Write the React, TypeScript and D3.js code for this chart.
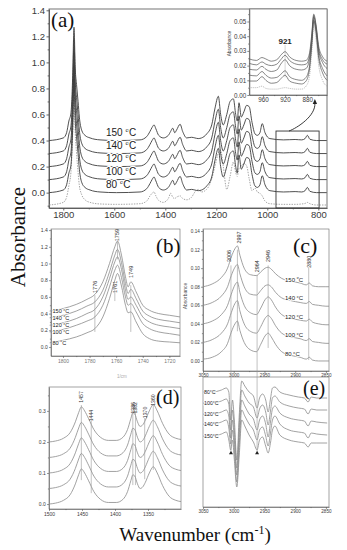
import * as React from "react";
import * as d3 from "d3";

const SANS = "'Liberation Sans', Arial, Helvetica, sans-serif";
const SERIF = "'Liberation Serif', 'Times New Roman', Times, serif";

const temps = ["150", "140", "120", "100", "80"];

// (a) overview spectrum, [wavenumber, absorbance above its baseline], positions
const specA: [number, number][] = [
  [1855, 0], [1800, 0.02], [1787, 0.06], [1778, 0.15], [1770, 0.21], [1763, 0.5], [1758, 0.87],
  [1753, 0.55], [1748, 0.43], [1742, 0.3], [1737, 0.18], [1728, 0.08], [1715, 0.04], [1695, 0.02],
  [1656, 0.005], [1591, 0], [1499, 0.005], [1473, 0.03], [1460, 0.07], [1452, 0.1], [1444, 0.12],
  [1437, 0.09], [1426, 0.04], [1408, 0.02], [1388, 0.04], [1379, 0.07], [1371, 0.095], [1363, 0.06],
  [1356, 0.08], [1342, 0.125], [1332, 0.07], [1316, 0.02], [1297, 0.025], [1284, 0.02], [1271, 0.015],
  [1258, 0.02], [1238, 0.05], [1218, 0.12], [1205, 0.25], [1192, 0.34], [1183, 0.2], [1173, 0.12],
  [1159, 0.2], [1146, 0.3], [1133, 0.32], [1124, 0.2], [1118, 0.15], [1111, 0.29], [1102, 0.18],
  [1092, 0.22], [1081, 0.27], [1071, 0.26], [1060, 0.14], [1048, 0.05], [1039, 0.04], [1029, 0.06],
  [1020, 0.13], [1009, 0.06], [990, 0.015], [937, 0.005], [891, 0.008], [865, 0.005], [852, 0.015],
  [843, 0.04], [833, 0.01], [807, 0], [767, 0],
];
const offsetsA = [0.4, 0.3, 0.2, 0.1, 0.0];

// dotted reference spectrum in (a)
const dottedBaseA = -0.095;
const dottedA: [number, number][] = [
  [1855, 0], [1800, 0.02], [1787, 0.06], [1778, 0.15], [1770, 0.25], [1763, 0.55], [1758, 0.85],
  [1753, 0.55], [1748, 0.4], [1742, 0.25], [1737, 0.15], [1728, 0.08], [1715, 0.04], [1695, 0.02],
  [1656, 0.008], [1591, 0.005], [1499, 0.01], [1473, 0.03], [1460, 0.07], [1452, 0.09], [1444, 0.1],
  [1437, 0.07], [1426, 0.035], [1408, 0.02], [1388, 0.05], [1379, 0.09], [1371, 0.06], [1363, 0.05],
  [1356, 0.06], [1342, 0.07], [1332, 0.05], [1316, 0.04], [1297, 0.06], [1284, 0.1], [1271, 0.12],
  [1258, 0.1], [1238, 0.12], [1218, 0.2], [1205, 0.3], [1192, 0.4], [1183, 0.42], [1173, 0.3],
  [1159, 0.12], [1146, 0.22], [1133, 0.33], [1124, 0.25], [1118, 0.22], [1111, 0.28], [1102, 0.3],
  [1092, 0.32], [1081, 0.3], [1071, 0.2], [1060, 0.11], [1048, 0.13], [1039, 0.1], [1029, 0.09],
  [1020, 0.07], [1009, 0.03], [990, 0.01], [937, 0.005], [891, 0.005], [865, 0.008], [852, 0.012],
  [843, 0.02], [833, 0.01], [807, 0], [767, 0],
];

// inset of (a): 985-844 cm-1
const wnInset = [985, 972, 962, 955, 945, 935, 928, 920, 912, 900, 890, 882, 876, 872, 868, 864, 859, 852, 844];
const inset150 = [0.0245, 0.0235, 0.0255, 0.0245, 0.023, 0.024, 0.027, 0.0295, 0.026, 0.0235, 0.023, 0.0235, 0.028, 0.04, 0.055, 0.048, 0.033, 0.026, 0.023];
const inset140 = [0.0215, 0.0205, 0.0225, 0.021, 0.02, 0.021, 0.024, 0.027, 0.0235, 0.021, 0.0205, 0.021, 0.026, 0.038, 0.054, 0.047, 0.031, 0.024, 0.021];
const inset120 = [0.0175, 0.017, 0.0195, 0.0175, 0.016, 0.017, 0.021, 0.024, 0.02, 0.0175, 0.017, 0.018, 0.024, 0.036, 0.053, 0.046, 0.03, 0.022, 0.018];
const inset100 = [0.0135, 0.013, 0.016, 0.0135, 0.0115, 0.012, 0.014, 0.0165, 0.0125, 0.0105, 0.01, 0.012, 0.019, 0.034, 0.051, 0.044, 0.027, 0.018, 0.013];
const inset80 = [0.0095, 0.0095, 0.0125, 0.01, 0.008, 0.0085, 0.011, 0.0135, 0.0095, 0.008, 0.0075, 0.0095, 0.017, 0.032, 0.05, 0.043, 0.025, 0.015, 0.01];
const insetDotted = [0.005, 0.005, 0.006, 0.0045, 0.004, 0.004, 0.0045, 0.005, 0.0045, 0.004, 0.004, 0.006, 0.012, 0.028, 0.047, 0.038, 0.02, 0.01, 0.006];

// (b) carbonyl region
const wnB = [1810, 1800, 1790, 1782, 1776, 1770, 1765, 1761, 1759, 1756, 1753, 1751, 1749, 1745, 1740, 1735, 1728, 1720, 1712];
const b150 = [0.43, 0.46, 0.51, 0.57, 0.63, 0.78, 1.0, 1.2, 1.27, 1.1, 0.84, 0.72, 0.78, 0.66, 0.5, 0.44, 0.4, 0.38, 0.36];
const b140 = [0.35, 0.38, 0.43, 0.49, 0.54, 0.68, 0.9, 1.1, 1.17, 1.01, 0.76, 0.64, 0.69, 0.58, 0.43, 0.37, 0.33, 0.31, 0.29];
const b120 = [0.26, 0.29, 0.34, 0.4, 0.45, 0.6, 0.82, 1.02, 1.08, 0.93, 0.68, 0.57, 0.6, 0.5, 0.36, 0.3, 0.26, 0.24, 0.22];
const b100 = [0.18, 0.21, 0.26, 0.31, 0.36, 0.5, 0.72, 0.92, 0.98, 0.83, 0.6, 0.5, 0.52, 0.42, 0.28, 0.22, 0.18, 0.16, 0.14];
const b80 = [0.05, 0.08, 0.12, 0.17, 0.22, 0.36, 0.58, 0.8, 0.88, 0.73, 0.5, 0.41, 0.42, 0.3, 0.16, 0.1, 0.07, 0.06, 0.05];
const bMarks = ["1776", "1759", "1761", "1749"];
const bMarkPos = [1776, 1759, 1761, 1749];
const bMarkSpan: [number, number][] = [[0.18, 0.62], [1.27, 1.05], [0.55, 0.72], [0.18, 0.74]];
const bMarkLabelY = [0.72, 1.34, 0.72, 0.9];

// (c) C-H stretch region
const wnC = [3050, 3035, 3020, 3010, 3004, 2998, 2994, 2990, 2983, 2973, 2963, 2956, 2949, 2944, 2939, 2932, 2922, 2907, 2892, 2882, 2877, 2872, 2862, 2850, 2845];
const c150 = [0.08, 0.083, 0.09, 0.1, 0.112, 0.121, 0.124, 0.114, 0.1, 0.093, 0.092, 0.096, 0.1, 0.101, 0.099, 0.094, 0.089, 0.086, 0.084, 0.082, 0.084, 0.081, 0.08, 0.08, 0.08];
const c140 = [0.06, 0.063, 0.07, 0.08, 0.092, 0.101, 0.104, 0.094, 0.08, 0.072, 0.071, 0.076, 0.081, 0.082, 0.08, 0.074, 0.068, 0.065, 0.063, 0.062, 0.064, 0.061, 0.06, 0.059, 0.059];
const c120 = [0.04, 0.043, 0.05, 0.06, 0.072, 0.082, 0.085, 0.074, 0.06, 0.052, 0.05, 0.057, 0.066, 0.069, 0.066, 0.058, 0.05, 0.046, 0.044, 0.043, 0.045, 0.042, 0.04, 0.039, 0.039];
const c100 = [0.02, 0.023, 0.03, 0.04, 0.052, 0.062, 0.065, 0.054, 0.04, 0.032, 0.03, 0.037, 0.046, 0.049, 0.046, 0.038, 0.03, 0.026, 0.024, 0.022, 0.024, 0.021, 0.02, 0.019, 0.019];
const c80 = [0.002, 0.004, 0.01, 0.019, 0.031, 0.04, 0.043, 0.033, 0.02, 0.012, 0.01, 0.018, 0.027, 0.03, 0.026, 0.018, 0.01, 0.006, 0.004, 0.002, 0.004, 0.001, 0, 0, 0];
const cOffsets = [0.08, 0.06, 0.04, 0.02, 0.0];
const cMarks = ["3006", "2997", "2964", "2946", "2880"];
const cMarkPos = [3004.5, 2994, 2962, 2944, 2878];
const cMarkSpan: [number, number][] = [[0.103, 0], [0.12, 0.032], [0.093, 0], [0.103, 0.014], [0.101, 0.001]];
const cMarkLabelY = [0.113, 0.133, 0.102, 0.113, 0.107];

// (d) CH bending region
const wnD = [1500, 1490, 1478, 1468, 1460, 1455, 1451, 1446, 1440, 1432, 1422, 1410, 1398, 1388, 1381, 1376, 1373, 1370, 1366, 1362, 1358, 1354, 1348, 1342, 1336, 1328, 1318, 1308, 1300];
const relD = [0, 0.003, 0.012, 0.03, 0.065, 0.095, 0.113, 0.1, 0.075, 0.04, 0.015, 0.005, 0.005, 0.015, 0.04, 0.075, 0.094, 0.09, 0.065, 0.05, 0.055, 0.07, 0.1, 0.12, 0.1, 0.06, 0.025, 0.012, 0.008];
const offsetsD = [0.2, 0.15, 0.1, 0.05, 0.0];
const dMarks = ["1457", "1444", "1386", "1382", "1370", "1360"];
const dMarkPos = [1451, 1436, 1373, 1369, 1355, 1342];
const dMarkSpan: [number, number][] = [[0.319, 0.077], [0.271, 0.035], [0.297, 0.061], [0.297, 0.061], [0.277, 0.08], [0.319, 0.11]];
const dMarkLabelY = [0.345, 0.285, 0.31, 0.31, 0.295, 0.335];

// (e) difference spectra, 3050-2845 cm-1
const tempsE = ["80", "100", "120", "140", "150"];
const wnE = [3050, 3035, 3020, 3012, 3008, 3005, 3002, 2999, 2995, 2991, 2987, 2982, 2975, 2968, 2962, 2958, 2953, 2948, 2944, 2940, 2937, 2933, 2925, 2910, 2895, 2885, 2879, 2874, 2865, 2848];
const e80 = [0.015, 0.015, 0.017, 0.019, 0.015, -0.013, 0.007, -0.013, -0.053, -0.008, 0.026, 0.021, 0.015, 0.011, -0.001, 0.009, 0.013, 0.007, -0.005, 0.009, 0.019, 0.02, 0.015, 0.012, 0.01, 0.009, 0.005, 0.01, 0.009, 0.009];
const e100 = [0.004, 0.004, 0.006, 0.008, 0.003, -0.023, -0.003, -0.023, -0.061, -0.018, 0.017, 0.011, 0.004, 0.0, -0.011, -0.002, 0.002, -0.005, -0.018, -0.003, 0.009, 0.011, 0.005, 0.001, -0.001, -0.002, -0.007, -0.002, -0.003, -0.003];
const e120 = [-0.007, -0.007, -0.005, -0.003, -0.009, -0.031, -0.013, -0.033, -0.068, -0.028, 0.007, 0.001, -0.007, -0.012, -0.023, -0.013, -0.009, -0.017, -0.03, -0.014, -0.002, 0.001, -0.006, -0.011, -0.013, -0.014, -0.019, -0.014, -0.015, -0.016];
const e140 = [-0.017, -0.017, -0.015, -0.013, -0.021, -0.037, -0.023, -0.043, -0.075, -0.038, -0.003, -0.009, -0.017, -0.023, -0.033, -0.023, -0.02, -0.029, -0.039, -0.025, -0.013, -0.009, -0.017, -0.023, -0.025, -0.026, -0.031, -0.026, -0.027, -0.028];
const e150 = [-0.029, -0.029, -0.027, -0.025, -0.033, -0.043, -0.033, -0.053, -0.08, -0.048, -0.013, -0.019, -0.028, -0.035, -0.043, -0.033, -0.03, -0.039, -0.046, -0.035, -0.023, -0.019, -0.028, -0.033, -0.035, -0.036, -0.04, -0.036, -0.036, -0.036];
const eTriangles = [3004.5, 2962];
const eTriangleY = -0.046;

type Pt = [number, number];
const zip = (wn: number[], v: number[]): Pt[] => wn.map((w, i) => [w, v[i]]);

function styleAxis(sel: any, fs: number, sw: number, color = "#3a3a3a") {
  sel.select(".domain").attr("stroke", "#555").attr("stroke-width", sw);
  sel.selectAll(".tick line").attr("stroke", "#555").attr("stroke-width", sw);
  sel.selectAll(".tick text").attr("font-size", fs).attr("font-family", SANS).attr("fill", color);
}

function panelAxes(g: any, x: any, y: any, o: any) {
  const [x0, x1] = x.range();
  const [y0, y1] = y.range();
  g.append("rect").attr("x", x0).attr("y", y1).attr("width", x1 - x0).attr("height", y0 - y1)
    .attr("fill", "none").attr("stroke", "#666").attr("stroke-width", o.sw);
  if (o.xMinor) {
    g.append("g").attr("transform", `translate(0,${y0})`)
      .call(d3.axisBottom(x).tickValues(o.xMinor).tickSize(o.tick * 0.55).tickSizeOuter(0).tickFormat(() => ""))
      .call((s: any) => { styleAxis(s, o.fs, o.sw); s.select(".domain").remove(); });
  }
  g.append("g").attr("transform", `translate(0,${y0})`)
    .call(d3.axisBottom(x).tickValues(o.xTicks).tickSize(o.tick).tickSizeOuter(0).tickPadding(o.xPad ?? 1).tickFormat(d3.format("d")))
    .call((s: any) => styleAxis(s, o.fs, o.sw, o.xColor));
  if (o.yTicks) {
    if (o.yMinor) {
      g.append("g").attr("transform", `translate(${x0},0)`)
        .call(d3.axisLeft(y).tickValues(o.yMinor).tickSize(o.tick * 0.55).tickSizeOuter(0).tickFormat(() => ""))
        .call((s: any) => { styleAxis(s, o.fs, o.sw); s.select(".domain").remove(); });
    }
    g.append("g").attr("transform", `translate(${x0},0)`)
      .call(d3.axisLeft(y).tickValues(o.yTicks).tickSize(o.tick).tickSizeOuter(0).tickPadding(o.yPad ?? 1).tickFormat(d3.format(o.yFmt)))
      .call((s: any) => styleAxis(s, o.fs, o.sw));
  }
}

function tempLabel(g: any, t: string, x: number, y: number, fs: number, gap = " ") {
  const txt = g.append("text").attr("x", x).attr("y", y).attr("font-family", SANS).attr("font-size", fs)
    .attr("fill", "#222").attr("stroke", "#fff").attr("stroke-width", fs * 0.25).attr("paint-order", "stroke");
  txt.append("tspan").text(t + gap);
  txt.append("tspan").text("o").attr("font-size", fs * 0.62).attr("dy", -fs * 0.38);
  txt.append("tspan").text("C").attr("dy", fs * 0.38);
}

function vLabel(g: any, t: string, xc: number, yc: number, fs: number) {
  g.append("text").attr("transform", `translate(${xc + fs * 0.36},${yc}) rotate(-90)`)
    .attr("text-anchor", "middle").attr("font-family", SANS).attr("font-size", fs).attr("fill", "#333").text(t);
}

function drawChart(svgRef: any) {
  const svg = d3.select(svgRef.current);
  svg.selectAll("*").remove();
  svg.append("rect").attr("width", 347).attr("height", 550).attr("fill", "#fff");

  const line = (x: any, y: any) =>
    d3.line<Pt>().x((d) => x(d[0])).y((d) => y(d[1])).curve(d3.curveMonotoneX);

  // ---------------- (a)
  const xA = d3.scaleLinear().domain([1856, 766]).range([49, 327]);
  const yA = d3.scaleLinear().domain([-0.118, 1.41]).range([208, 9]);
  const gA = svg.append("g");
  panelAxes(gA, xA, yA, {
    sw: 0.9, tick: 2.5, fs: 9.5, xPad: 0.5, yPad: 1.5,
    xTicks: [1800, 1600, 1400, 1200, 1000, 800], xMinor: [1700, 1500, 1300, 1100, 900],
    yTicks: [0, 0.2, 0.4, 0.6, 0.8, 1.0, 1.2, 1.4], yMinor: [-0.1, 0.1, 0.3, 0.5, 0.7, 0.9, 1.1, 1.3], yFmt: ".1f",
  });
  const lA = line(xA, yA);
  gA.append("path").attr("d", lA(dottedA.map(([w, v]) => [w, v + dottedBaseA] as Pt)))
    .attr("fill", "none").attr("stroke", "#9a9a9a").attr("stroke-width", 0.9).attr("stroke-dasharray", "1.4,1.2");
  gA.selectAll(".specA").data(offsetsA).enter().append("path")
    .attr("d", (o: number) => lA(specA.map(([w, v]) => [w, v + o] as Pt)))
    .attr("fill", "none").attr("stroke", "#3c3c3c").attr("stroke-width", 0.9);
  offsetsA.forEach((o, i) => tempLabel(gA, temps[i], 106, yA(o) - 5, 10));

  // zoom box and arrow
  gA.append("rect").attr("x", xA(966)).attr("y", yA(0.473)).attr("width", xA(797) - xA(966)).attr("height", yA(-0.118) - yA(0.473))
    .attr("fill", "none").attr("stroke", "#333").attr("stroke-width", 0.9);

  // inset
  const xI = d3.scaleLinear().domain([985, 844]).range([249.3, 327]);
  const yI = d3.scaleLinear().domain([0, 0.0585]).range([95, 9]);
  const gI = svg.append("g");
  gI.append("rect").attr("x", 249.3).attr("y", 9).attr("width", 327 - 249.3).attr("height", 86).attr("fill", "#fff");
  panelAxes(gI, xI, yI, {
    sw: 0.7, tick: 2, fs: 6.3, xPad: 0.8, yPad: 1,
    xTicks: [960, 920, 880], xMinor: [940, 900, 860],
    yTicks: [0, 0.01, 0.02, 0.03, 0.04, 0.05], yMinor: [0.005, 0.015, 0.025, 0.035, 0.045, 0.055], yFmt: ".2f",
  });
  const lI = line(xI, yI);
  gI.append("line").attr("x1", xI(920)).attr("x2", xI(920)).attr("y1", yI(0.034)).attr("y2", yI(0.012))
    .attr("stroke", "#aaa").attr("stroke-width", 0.5);
  gI.append("path").attr("d", lI(zip(wnInset, insetDotted))).attr("fill", "none").attr("stroke", "#999")
    .attr("stroke-width", 0.7).attr("stroke-dasharray", "1,1");
  [inset150, inset140, inset120, inset100, inset80].forEach((s) =>
    gI.append("path").attr("d", lI(zip(wnInset, s))).attr("fill", "none").attr("stroke", "#555").attr("stroke-width", 0.7));
  gI.append("text").attr("x", xI(920)).attr("y", yI(0.035)).attr("text-anchor", "middle").attr("font-family", SANS)
    .attr("font-weight", "bold").attr("font-size", 8).attr("fill", "#222").text("921");
  gI.append("text").attr("transform", `translate(230.5,${yI(0.035)}) rotate(-90)`).attr("text-anchor", "middle")
    .attr("font-family", SANS).attr("font-size", 4.8).attr("fill", "#444").text("Absorbance");

  const ax0 = xA(915), ay0 = yA(0.473), ax1 = xI(866), ay1 = yI(0) + 5;
  svg.append("path").attr("d", `M${ax0},${ay0} C${ax0 + 8},${ay0 - 3} ${ax1 + 1},${ay1 + 16} ${ax1},${ay1 + 3}`)
    .attr("fill", "none").attr("stroke", "#222").attr("stroke-width", 0.9);
  svg.append("path").attr("d", `M${ax1},${ay1 - 1} L${ax1 - 2.2},${ay1 + 4} L${ax1 + 2.2},${ay1 + 4} Z`).attr("fill", "#222");

  svg.append("text").attr("x", 51).attr("y", 27).attr("font-family", SERIF).attr("font-size", 21).attr("fill", "#111").text("(a)");

  // ---------------- (b)
  const xB = d3.scaleLinear().domain([1809, 1712]).range([51, 180]);
  const yB = d3.scaleLinear().domain([-0.108, 1.413]).range([356, 229]);
  const gB = svg.append("g");
  panelAxes(gB, xB, yB, {
    sw: 0.6, tick: 2, fs: 5, xPad: 1.5, yPad: 1.2, xColor: "#777",
    xTicks: [1800, 1780, 1760, 1740, 1720], xMinor: [1790, 1770, 1750, 1730],
    yTicks: [0, 0.2, 0.4, 0.6, 0.8, 1.0, 1.2, 1.4], yMinor: [0.1, 0.3, 0.5, 0.7, 0.9, 1.1, 1.3], yFmt: ".1f",
  });
  const lB = line(xB, yB);
  const bSeries = [b150, b140, b120, b100, b80];
  bSeries.forEach((s) => gB.append("path").attr("d", lB(zip(wnB, s))).attr("fill", "none").attr("stroke", "#8a8a8a").attr("stroke-width", 0.8));
  bMarks.forEach((m, i) => {
    gB.append("line").attr("x1", xB(bMarkPos[i])).attr("x2", xB(bMarkPos[i])).attr("y1", yB(bMarkSpan[i][0])).attr("y2", yB(bMarkSpan[i][1]))
      .attr("stroke", "#999").attr("stroke-width", 0.6);
    vLabel(gB, m, xB(bMarkPos[i]), yB(bMarkLabelY[i]), 5.5);
  });
  bSeries.forEach((s, i) => tempLabel(gB, temps[i], 52.5, yB(s[0]) + 1.8, 5.6));
  gB.append("text").attr("x", 122).attr("y", 378).attr("text-anchor", "middle").attr("font-family", SANS)
    .attr("font-size", 4.5).attr("fill", "#aaa").text("1/cm");
  svg.append("text").attr("x", 156).attr("y", 253).attr("font-family", SERIF).attr("font-size", 21).attr("fill", "#111").text("(b)");

  // ---------------- (c)
  const xC = d3.scaleLinear().domain([3050, 2845]).range([203, 329]);
  const yC = d3.scaleLinear().domain([-0.0108, 0.1422]).range([371, 229]);
  const gC = svg.append("g");
  panelAxes(gC, xC, yC, {
    sw: 0.6, tick: 2, fs: 4.6, xPad: 1, yPad: 1.2,
    xTicks: [3050, 3000, 2950, 2900, 2850], xMinor: [3025, 2975, 2925, 2875],
    yTicks: [0, 0.02, 0.04, 0.06, 0.08, 0.1, 0.12, 0.14], yMinor: [0.01, 0.03, 0.05, 0.07, 0.09, 0.11, 0.13], yFmt: ".2f",
  });
  const lC = line(xC, yC);
  [c150, c140, c120, c100, c80].forEach((s) =>
    gC.append("path").attr("d", lC(zip(wnC, s))).attr("fill", "none").attr("stroke", "#8a8a8a").attr("stroke-width", 0.8));
  gC.append("text").attr("transform", `translate(187,${yC(0.07)}) rotate(-90)`).attr("text-anchor", "middle")
    .attr("font-family", SANS).attr("font-size", 5).attr("fill", "#555").text("Absorbance");
  cOffsets.forEach((o, i) => tempLabel(gC, temps[i], 285, yC(o) - 5, 6));
  svg.append("text").attr("x", 293).attr("y", 253).attr("font-family", SERIF).attr("font-size", 22).attr("fill", "#111").text("(c)");

  // ---------------- (d)
  const xD = d3.scaleLinear().domain([1500, 1300]).range([49, 181]);
  const yD = d3.scaleLinear().domain([-0.016, 0.377]).range([509, 387]);
  const gD = svg.append("g");
  panelAxes(gD, xD, yD, {
    sw: 0.6, tick: 2, fs: 5, xPad: 1.2, yPad: 1.2,
    xTicks: [1500, 1450, 1400, 1350], xMinor: [1475, 1425, 1375, 1325],
    yTicks: [0, 0.1, 0.2, 0.3], yMinor: [0.05, 0.15, 0.25, 0.35], yFmt: ".1f",
  });
  const lD = line(xD, yD);
  offsetsD.forEach((o) =>
    gD.append("path").attr("d", lD(wnD.map((w, i) => [w, relD[i] + o] as Pt))).attr("fill", "none")
      .attr("stroke", "#8a8a8a").attr("stroke-width", 0.8));
  dMarks.forEach((m, i) => {
    gD.append("line").attr("x1", xD(dMarkPos[i])).attr("x2", xD(dMarkPos[i])).attr("y1", yD(dMarkSpan[i][0])).attr("y2", yD(dMarkSpan[i][1]))
      .attr("stroke", "#999").attr("stroke-width", 0.6);
    vLabel(gD, m, xD(dMarkPos[i]), yD(dMarkLabelY[i]), 5.2);
  });
  svg.append("text").attr("x", 156).attr("y", 404).attr("font-family", SERIF).attr("font-size", 20).attr("fill", "#111").text("(d)");

  // ---------------- (e)
  const xE = d3.scaleLinear().domain([3050, 2845]).range([203, 329]);
  const yE = d3.scaleLinear().domain([-0.1, 0.03]).range([507, 377]);
  const gE = svg.append("g");
  panelAxes(gE, xE, yE, {
    sw: 0.6, tick: 2, fs: 4.6, xPad: 1.2,
    xTicks: [3050, 3000, 2950, 2900, 2850], xMinor: [3025, 2975, 2925, 2875],
  });
  const lE = line(xE, yE);
  const eSeries = [e80, e100, e120, e140, e150];
  eSeries.forEach((s) => gE.append("path").attr("d", lE(zip(wnE, s))).attr("fill", "none").attr("stroke", "#8a8a8a").attr("stroke-width", 0.8));
  eSeries.forEach((s, i) => tempLabel(gE, tempsE[i], 204, yE(s[0]) + 2, 5.4, ""));
  gE.selectAll(".tri").data(eTriangles).enter().append("path")
    .attr("d", d3.symbol().type(d3.symbolTriangle).size(7))
    .attr("transform", (w: number) => `translate(${xE(w)},${yE(eTriangleY)})`).attr("fill", "#222");
  svg.append("text").attr("x", 303).attr("y", 395).attr("font-family", SERIF).attr("font-size", 20).attr("fill", "#111").text("(e)");

  // marker lines in (c), the first and third run down into (e)
  cMarks.forEach((m, i) => {
    const x = xC(cMarkPos[i]);
    const toE = i === 0 || i === 2;
    svg.append("line").attr("x1", x).attr("x2", x).attr("y1", yC(cMarkSpan[i][0]))
      .attr("y2", toE ? yE(eTriangleY) - 2 : yC(cMarkSpan[i][1])).attr("stroke", "#999").attr("stroke-width", 0.6);
    vLabel(gC, m, x + (i === 0 ? -1.5 : i === 1 ? 1.5 : 0), yC(cMarkLabelY[i]), 5.4);
  });

  // shared titles
  svg.append("text").attr("transform", "translate(25,237) rotate(-90)").attr("text-anchor", "middle")
    .attr("font-family", SERIF).attr("font-size", 21).attr("fill", "#111").text("Absorbance");
  const xt = svg.append("text").attr("x", 195).attr("y", 541).attr("text-anchor", "middle")
    .attr("font-family", SERIF).attr("font-size", 19).attr("fill", "#111");
  xt.append("tspan").text("Wavenumber (cm");
  xt.append("tspan").text("-1").attr("font-size", 12).attr("dy", -7);
  xt.append("tspan").text(")").attr("dy", 7);
}

const App = () => {
  const svgRef = React.useRef<SVGSVGElement | null>(null);

  React.useEffect(() => {
    drawChart(svgRef);
  }, [svgRef]);

  return (
    <div style={{ position: "absolute", left: 0, top: 0 }}>
      <svg ref={svgRef} width={347} height={550} style={{ display: "block" }} />
    </div>
  );
};

export default App;
